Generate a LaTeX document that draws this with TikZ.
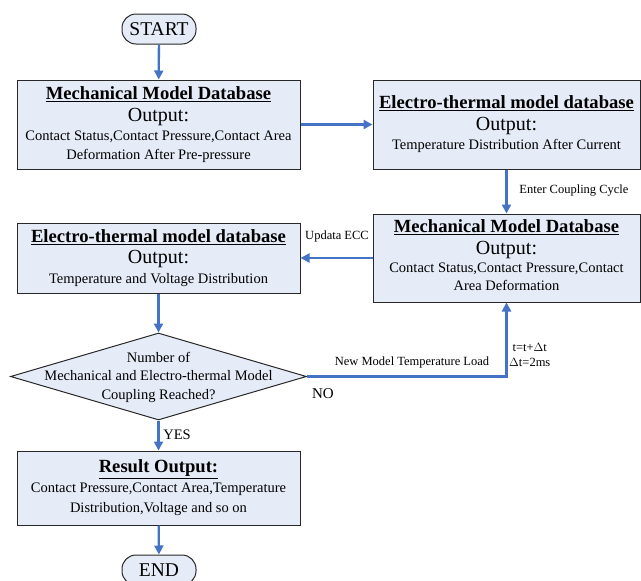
\documentclass[tikz,border=0pt]{standalone}
\usepackage{fontspec}
\setmainfont{Liberation Serif}
\usetikzlibrary{shapes.geometric,arrows.meta}
\definecolor{boxfill}{RGB}{230,236,247}
\definecolor{arr}{RGB}{68,114,196}
\definecolor{edge}{RGB}{40,40,40}
\newcommand{\ttl}[1]{{\fontsize{18.6}{21}\selectfont\bfseries\underline{#1}}}
\newcommand{\outp}{{\fontsize{20}{22}\selectfont Output:}}
\begin{document}
\begin{tikzpicture}[x=1pt,y=-1pt,
  box/.style={draw=edge, fill=boxfill, line width=1pt, inner sep=0pt, align=center,
    font=\fontsize{14.5}{18.5}\selectfont},
  term/.style={draw=edge, fill=boxfill, line width=1pt, rounded corners=14pt,
    minimum width=74pt, minimum height=30pt, inner sep=0pt, font=\fontsize{19.5}{21}\selectfont},
  conn/.style={draw=arr, line width=2.3pt, -{Triangle[length=9pt,width=9pt]}},
  lbl/.style={inner sep=0pt, font=\fontsize{12.5}{15}\selectfont, align=center}]
\useasboundingbox (0,0) rectangle (641,581);
\node[term] (start) at (159,29) {START};
\node[box, minimum width=283pt, minimum height=89pt] (b1) at (158.5,124.5)
  {\ttl{Mechanical Model Database}\\[3pt] \outp\\[1pt] Contact Status,Contact Pressure,Contact Area\\ Deformation After Pre-pressure};
\node[box, minimum width=267pt, minimum height=89pt] (b2) at (506.5,124.5)
  {\ttl{Electro-thermal model database}\\[3pt] \outp\\[1pt] Temperature Distribution After Current};
\node[box, minimum width=267pt, minimum height=88pt] (b3) at (506.5,258) {};
\node[inner sep=0pt, align=center, font=\fontsize{14.5}{17.5}\selectfont] (b3t) at (506.5,255)
  {\ttl{Mechanical Model Database}\\[4pt] \outp\\[1pt] Contact Status,Contact Pressure,Contact\\ Area Deformation};
\node[box, minimum width=283pt, minimum height=70pt] (b4) at (158.5,258)
  {\ttl{Electro-thermal model database}\\[3pt] \outp\\[1pt] Temperature and Voltage Distribution};
\node[draw=edge, fill=boxfill, line width=1pt, diamond, minimum width=296pt, minimum height=87pt, inner sep=0pt] (dia) at (158.5,376.5) {};
\node[inner sep=0pt, align=center, font=\fontsize{14.5}{18.5}\selectfont] (dtext) at (158.5,377)
  {Number of\\ Mechanical and Electro-thermal Model\\ Coupling Reached?};
\node[box, minimum width=283pt, minimum height=74pt] (res) at (158.5,488)
  {{\fontsize{18.6}{21}\selectfont\bfseries\underline{Result Output:}}\\[1pt] Contact Pressure,Contact Area,Temperature\\[2pt] Distribution,Voltage and so on};
\node[term] (end) at (159,570) {END};

\draw[conn] (start) -- (b1);
\draw[conn] (b1) -- (b2);
\draw[conn] (b2) -- (b3);
\draw[conn] (b3) -- (b4);
\draw[conn] (b4) -- (dia);
\draw[conn] (dia.east) -| (b3.south);
\draw[conn] (dia) -- (res);
\draw[conn] (res) -- (end);

\node[lbl] (lenter) at (574,191) {Enter Coupling Cycle};
\node[lbl] (lecc) at (337,236) {Updata ECC};
\node[lbl] (lnew) at (412,362) {New Model Temperature Load};
\node[lbl, font=\fontsize{15}{17}\selectfont] (lno) at (323,394) {NO};
\node[lbl, anchor=west] (lt) at (509,355) {t=t+$\Delta$t\\ $\Delta$t=2ms};
\node[lbl, font=\fontsize{14.5}{17}\selectfont] (lyes) at (177,435) {YES};
\end{tikzpicture}
\end{document}
